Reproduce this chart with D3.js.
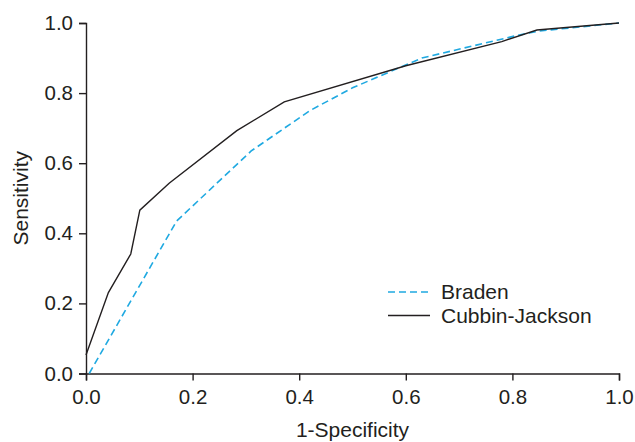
<!DOCTYPE html>
<html lang="en">
<head>
    <meta charset="UTF-8">
    <title>ROC curves</title>
    <script src="https://cdnjs.cloudflare.com/ajax/libs/d3/7.8.5/d3.min.js"></script>
    <style>
        body { margin: 0; background: #fff; }
        svg { display: block; font-family: "Liberation Sans", Arial, sans-serif; }
    </style>
</head>
<body>
<svg width="635" height="442"></svg>
<script>
    // 1-specificity / sensitivity pairs
    const bradenX = [0.006, 0.17, 0.31, 0.42, 0.5, 0.63, 0.81, 0.85, 1.0];
    const bradenY = [0.0, 0.435, 0.635, 0.75, 0.815, 0.9, 0.965, 0.977, 1.0];
    const cubbinX = [0.0, 0.042, 0.084, 0.101, 0.156, 0.283, 0.372, 0.6, 0.78, 0.846, 1.0];
    const cubbinY = [0.053, 0.231, 0.341, 0.466, 0.543, 0.693, 0.775, 0.878, 0.947, 0.98, 1.0];
    const tickValues = [0, 0.2, 0.4, 0.6, 0.8, 1.0];
    const seriesNames = ["Braden", "Cubbin-Jackson"];

    const svg = d3.select("svg");
    const margin = {left: 86, right: 16, top: 23, bottom: 68.5};
    const width = 635 - margin.left - margin.right;
    const height = 442 - margin.top - margin.bottom;
    const ink = "#231f20";
    const blue = "#1fa9e1";

    const x = d3.scaleLinear().domain([0, 1]).range([0, width]);
    const y = d3.scaleLinear().domain([0, 1]).range([height, 0]);

    const g = svg.append("g").attr("transform", `translate(${margin.left},${margin.top})`);

    const xAxis = g.append("g")
        .attr("transform", `translate(0,${height})`)
        .call(d3.axisBottom(x).tickValues(tickValues).tickFormat(d3.format(".1f")).tickSizeOuter(0).tickSize(7).tickPadding(9));
    const yAxis = g.append("g")
        .call(d3.axisLeft(y).tickValues(tickValues).tickFormat(d3.format(".1f")).tickSizeOuter(0).tickSize(7).tickPadding(6));

    [xAxis, yAxis].forEach(a => {
        a.selectAll("path, line").attr("stroke", ink).attr("stroke-width", 1.4);
        a.selectAll("text").attr("fill", ink).attr("font-size", 20.5).attr("font-family", "Liberation Sans, Arial, sans-serif");
    });

    const line = d3.line().x(d => x(d[0])).y(d => y(d[1]));

    const bradenPts = bradenX.map((v, i) => [v, bradenY[i]]);
    const cubbinPts = cubbinX.map((v, i) => [v, cubbinY[i]]);

    g.append("path")
        .datum(bradenPts)
        .attr("d", line)
        .attr("fill", "none")
        .attr("stroke", blue)
        .attr("stroke-width", 1.6)
        .attr("stroke-dasharray", "7,4");

    g.append("path")
        .datum(cubbinPts)
        .attr("d", line)
        .attr("fill", "none")
        .attr("stroke", ink)
        .attr("stroke-width", 1.4);

    // axis titles
    svg.append("text")
        .attr("x", margin.left + width / 2)
        .attr("y", 437)
        .attr("text-anchor", "middle")
        .attr("font-size", 21)
        .attr("fill", ink)
        .text("1-Specificity");

    svg.append("text")
        .attr("transform", `translate(28,${margin.top + height / 2}) rotate(-90)`)
        .attr("text-anchor", "middle")
        .attr("font-size", 21)
        .attr("fill", ink)
        .text("Sensitivity");

    // legend
    const legend = svg.append("g").attr("transform", "translate(388,292)");
    const styles = [
        {stroke: blue, dash: "7,4", w: 1.6},
        {stroke: ink, dash: null, w: 1.4}
    ];
    seriesNames.forEach((name, i) => {
        const row = legend.append("g").attr("transform", `translate(0,${i * 23.5})`);
        row.append("line")
            .attr("x1", 0).attr("x2", 42)
            .attr("stroke", styles[i].stroke)
            .attr("stroke-width", styles[i].w)
            .attr("stroke-dasharray", styles[i].dash);
        row.append("text")
            .attr("x", 53)
            .attr("y", 7)
            .attr("font-size", 21)
            .attr("fill", ink)
            .text(name);
    });
</script>
</body>
</html>
